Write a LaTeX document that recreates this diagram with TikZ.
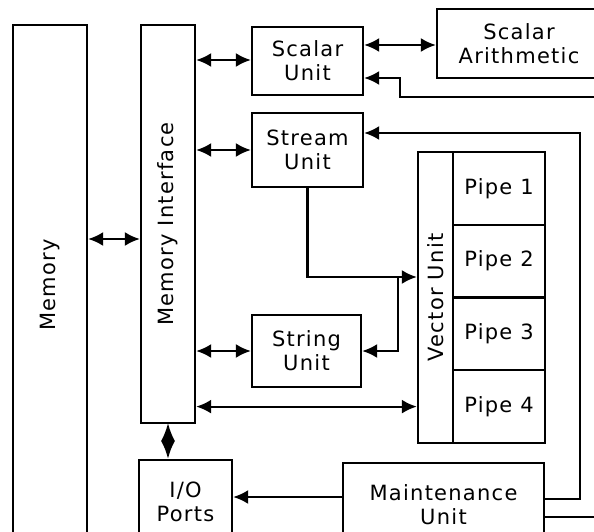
\documentclass[tikz,border=0pt]{standalone}
\usepackage{fontspec}
\setmainfont[LetterSpace=6]{DejaVu Sans}
\usepackage{tikz}
\usetikzlibrary{calc, positioning, arrows.meta}

\begin{document}
\begin{tikzpicture}[
  x=1pt, y=-1pt,
  every node/.style={draw, line width=2.3pt, inner sep=0pt, align=center,
    font=\fontsize{21}{24}\selectfont},
  link/.style={line width=2.2pt},
  >={Latex[length=15pt, width=14pt]}
]
  \useasboundingbox (0,0) rectangle (594,532);
  \clip (0,0) rectangle (594,532);

  \node (mem)   at (50,285)    [minimum width=74pt,  minimum height=520pt] {\rotatebox{90}{Memory}};
  \node (mi)    at (168,224)   [minimum width=54pt,  minimum height=398pt] {\rotatebox{90}{Memory Interface}};
  \node (scal)  at (307.5,61)  [minimum width=111pt, minimum height=68pt] {Scalar\\Unit};
  \node (strm)  at (307.5,150) [minimum width=111pt, minimum height=74pt] {Stream\\Unit};
  \node (strg)  at (306.5,351) [minimum width=109pt, minimum height=72pt] {String\\Unit};
  \node (arith) at (519,43.5)  [minimum width=164pt, minimum height=69pt] {Scalar\\Arithmetic};
  \node (io)    at (185.5,502) [minimum width=93pt,  minimum height=84pt] {I/O\\Ports};
  \node (maint) at (443.5,505) [minimum width=201pt, minimum height=84pt] {Maintenance\\Unit};

  % vector unit with its four pipes
  \node (vec)   at (435.5,297.5) [minimum width=35pt, minimum height=291pt] {\rotatebox{90}{Vector Unit}};
  \node (pipe1) at (499,188.4) [minimum width=92pt, minimum height=72.75pt] {Pipe 1};
  \node (pipe2) at (499,261.1) [minimum width=92pt, minimum height=72.75pt] {Pipe 2};
  \node (pipe3) at (499,333.9) [minimum width=92pt, minimum height=72.75pt] {Pipe 3};
  \node (pipe4) at (499,406.6) [minimum width=92pt, minimum height=72.75pt] {Pipe 4};

  \coordinate (split)  at (398,277);
  \coordinate (rimtop) at (600,97);
  \coordinate (rimbot) at (600,517);

  % memory interface links
  \draw[link, <->] (mem.east |- 0,239) -- (mi.west |- 0,239);
  \draw[link, <->] (mi.east |- 0,60) -- (scal.west |- 0,60);
  \draw[link, <->] (mi.east |- strm) -- (strm.west);
  \draw[link, <->] (mi.east |- strg) -- (strg.west);
  \draw[link, <->] (mi.east |- pipe4) -- (vec.west |- pipe4);
  \draw[link, {Latex[length=18pt, width=14pt]}-{Latex[length=18pt, width=14pt]}] (mi.south |- 0,423) -- (mi.south |- io.north);
  % scalar side
  \draw[link, <->] (scal.east |- 0,45) -- (arith.west |- 0,45);
  \draw[link, ->] (rimtop) -| (400,78) -- (scal.east |- 0,78);
  % stream and string feed the vector unit
  \draw[link, ->] (strm.south) |- (vec.west |- split);
  \draw[link, ->] (split) |- (strg.east);
  % maintenance unit
  \draw[link, ->] (maint.west |- 0,497) -- (io.east |- 0,497);
  \draw[link, ->] (maint.east |- 0,499) -| (580,133) -- (strm.east |- 0,133);
  \draw[link] (maint.east |- rimbot) -- (rimbot);
\end{tikzpicture}
\end{document}
